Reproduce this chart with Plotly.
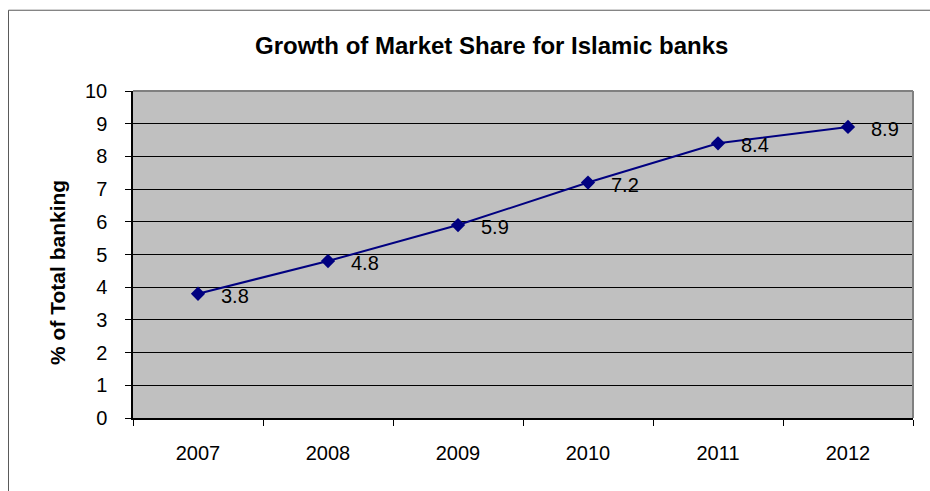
import plotly.graph_objects as go

years = ["2007", "2008", "2009", "2010", "2011", "2012"]
share = [3.8, 4.8, 5.9, 7.2, 8.4, 8.9]
y_ticks = [0, 1, 2, 3, 4, 5, 6, 7, 8, 9, 10]

W, H = 930, 491
L, R, T, B = 133, 17, 90.5, 72.5
pw, ph = W - L - R, H - T - B
FONT = "Arial, Liberation Sans"

def px_x(p):
    return (p - L) / pw

def px_y(p):
    return (H - B - p) / ph

fig = go.Figure()
fig.add_trace(go.Scatter(
    x=years, y=share, mode="lines+markers",
    line=dict(color="#000080", width=2),
    marker=dict(symbol="diamond", size=11, color="#000080"),
    hoverinfo="x+y", showlegend=False,
))

annotations = []
for i, yv in enumerate(share):
    annotations.append(dict(
        x=i, y=yv, xref="x", yref="y", text=str(yv), showarrow=False,
        xanchor="left", yanchor="middle", xshift=21, yshift=-2,
        font=dict(family=FONT, size=20, color="black"),
    ))

annotations.append(dict(
    x=px_x(491), y=px_y(45), xref="paper", yref="paper",
    text="<b>Growth of Market Share for Islamic banks</b>", showarrow=False,
    xanchor="center", yanchor="middle",
    font=dict(family=FONT, size=24, color="black"),
))
annotations.append(dict(
    x=px_x(58), y=px_y(273), xref="paper", yref="paper",
    text="<b>% of Total banking</b>", showarrow=False, textangle=-90,
    xanchor="center", yanchor="middle",
    font=dict(family=FONT, size=21, color="black"),
))

shapes = [
    dict(type="rect", xref="paper", yref="paper",
         x0=px_x(8.5), x1=px_x(960), y0=px_y(9.5), y1=px_y(520),
         line=dict(color="#5a5a5a", width=1), layer="below"),
    dict(type="line", xref="paper", yref="paper",
         x0=0, x1=1, y0=1, y1=1, line=dict(color="#808080", width=2)),
    dict(type="line", xref="paper", yref="paper",
         x0=1, x1=1, y0=0, y1=1, line=dict(color="#808080", width=2)),
]

fig.update_layout(
    width=W, height=H,
    margin=dict(l=L, r=R, t=T, b=B),
    paper_bgcolor="white", plot_bgcolor="#C0C0C0",
    font=dict(family=FONT, size=20, color="black"),
    annotations=annotations, shapes=shapes,
    xaxis=dict(
        type="category", range=[-0.5, 5.5], tickson="boundaries",
        ticks="outside", ticklen=6, tickcolor="black", tickwidth=1,
        showline=True, linecolor="black", linewidth=2,
        showgrid=False, zeroline=False,
        ticklabelstandoff=16,
        tickfont=dict(size=20),
    ),
    yaxis=dict(
        range=[0, 10], tickvals=y_ticks, ticks="outside", ticklen=6,
        tickcolor="black", tickwidth=1,
        showline=True, linecolor="black", linewidth=1.5,
        showgrid=True, gridcolor="black", gridwidth=1, zeroline=False,
        ticklabelstandoff=14,
        tickfont=dict(size=20),
    ),
)

fig.write_html("out.html")
